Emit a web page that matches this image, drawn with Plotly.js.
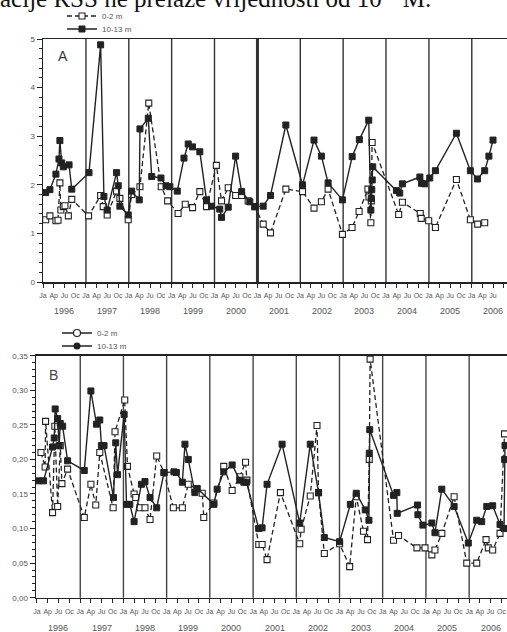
<!DOCTYPE html>
<html>
<head>
<meta charset="utf-8">
<script src="https://cdn.plot.ly/plotly-3.0.1.min.js"></script>
<style>
html,body{margin:0;padding:0;background:#fff;}
#chart{width:507px;height:632px;}
</style>
</head>
<body>
<div id="chart"></div>
<script>
// ---------- DATA ----------
const headerText = 'acije RSS ne prelaze vrijednosti od 10<sup>-4</sup> M.';
const seriesNames = ['0-2 m', '10-13 m'];
const panelLabels = ['A', 'B'];
const yearLabels = ['1996','1997','1998','1999','2000','2001','2002','2003','2004','2005','2006'];
const monthLabels = ['Ja','Ap','Ju','Oc'];
const monthStarts = ['01','04','07','10'];

// Panel A (scale 0-5)
const a02Dates = ['1996-01-24','1996-02-29','1996-04-20','1996-05-08','1996-05-24','1996-06-01','1996-06-22','1996-07-06','1996-08-04','1996-09-02',
  '1997-01-23','1997-05-06','1997-05-28','1997-07-01','1997-09-19','1997-10-17','1997-12-27',
  '1998-01-25','1998-04-06','1998-06-20','1998-10-04','1998-11-28',
  '1999-02-25','1999-04-27','1999-06-28','1999-08-29','1999-10-25',
  '2000-01-17','2000-03-01','2000-04-27','2000-06-29','2000-08-19','2000-10-14','2000-12-10',
  '2001-02-19','2001-04-22','2001-08-31',
  '2002-01-20','2002-04-28','2002-06-30','2002-08-26','2002-12-26',
  '2003-03-18','2003-05-17','2003-07-31','2003-08-09','2003-08-25','2003-08-29','2003-09-05',
  '2004-04-18','2004-05-20','2004-10-19','2004-10-27','2004-12-30',
  '2005-02-25','2005-08-23','2005-12-20',
  '2006-02-20','2006-04-21'];
const a02Vals = [1.28,1.36,1.26,1.27,2.04,1.48,1.55,1.57,1.36,1.70,
  1.36,1.78,1.55,1.38,1.87,1.72,1.28,
  1.80,1.96,3.68,1.96,1.67,
  1.41,1.60,1.53,1.86,1.55,
  2.40,1.67,1.94,1.78,1.78,1.67,1.55,
  1.19,1.01,1.91,
  1.86,1.52,1.65,1.91,0.98,
  1.12,1.45,1.91,1.75,1.22,1.67,2.87,
  1.39,1.64,1.41,1.31,1.26,
  1.12,2.11,1.28,
  1.19,1.22];

const a1013Dates = ['1996-01-24','1996-02-29','1996-04-20','1996-05-16','1996-05-24','1996-06-08','1996-06-22','1996-08-10','1996-09-02',
  '1997-01-27','1997-05-06','1997-06-03','1997-07-01','1997-09-19','1997-10-03','1997-10-17','1997-12-27',
  '1998-01-25','1998-03-31','1998-04-06','1998-06-16','1998-07-15','1998-10-02','1998-11-14','1998-12-17',
  '1999-02-18','1999-04-16','1999-05-22','1999-06-28','1999-08-29','1999-10-25','1999-12-07',
  '2000-02-15','2000-03-01','2000-04-27','2000-06-29','2000-08-19','2000-10-28','2000-12-10',
  '2001-02-19','2001-04-22','2001-08-31',
  '2002-01-20','2002-04-28','2002-06-30','2002-08-26','2002-12-26',
  '2003-03-19','2003-05-19','2003-08-07','2003-08-25','2003-08-29','2003-09-02','2003-09-06','2003-09-10',
  '2004-03-30','2004-04-27','2004-05-20','2004-10-16','2004-10-30','2004-11-27',
  '2005-01-08','2005-02-25','2005-08-23','2005-12-20',
  '2006-02-18','2006-04-21','2006-05-27','2006-07-01'];
const a1013Vals = [1.84,1.90,2.22,2.53,2.91,2.45,2.37,2.41,1.91,
  2.25,4.88,1.76,1.48,2.25,1.98,1.56,1.38,
  1.87,1.69,3.15,3.37,2.17,2.14,1.98,1.96,
  1.87,2.55,2.84,2.78,2.68,1.69,1.56,
  1.50,1.33,1.54,2.59,1.86,1.65,1.55,
  1.56,1.78,3.23,
  2.00,2.92,2.59,2.04,1.69,
  2.58,2.93,3.33,1.48,1.72,1.90,2.10,2.37,
  1.88,1.83,2.02,2.16,2.03,2.02,
  2.14,2.29,3.06,2.29,
  2.12,2.29,2.59,2.92];

// Panel B (scale 0-0.35)
const b02Dates = ['1996-02-04','1996-03-10','1996-03-14','1996-05-12','1996-05-31','1996-06-24','1996-07-16','1996-07-30','1996-09-16',
  '1997-02-04','1997-04-01','1997-05-12','1997-06-15','1997-10-06','1997-10-22',
  '1998-01-12','1998-02-04','1998-04-01','1998-04-15','1998-05-21','1998-07-02','1998-08-14','1998-10-09','1998-12-10',
  '1999-02-27','1999-05-14','1999-07-03','1999-08-28','1999-10-29','1999-11-11',
  '2000-02-04','2000-04-28','2000-07-08','2000-09-11','2000-10-29','2000-11-10',
  '2001-02-18','2001-03-18','2001-04-29','2001-08-20',
  '2002-01-30','2002-02-11','2002-04-29','2002-06-25','2002-07-08','2002-08-26',
  '2003-01-02','2003-03-28','2003-05-23','2003-07-23','2003-08-26','2003-09-10','2003-09-17',
  '2004-04-02','2004-05-14','2004-10-17','2004-12-24',
  '2005-02-20','2005-03-18','2005-05-15','2005-08-27','2005-12-12',
  '2006-03-06','2006-05-24','2006-06-12','2006-07-19','2006-09-19','2006-10-27'];
const b02Vals = [0.210,0.189,0.255,0.123,0.248,0.132,0.220,0.165,0.186,
  0.116,0.164,0.134,0.210,0.130,0.240,
  0.286,0.190,0.150,0.145,0.130,0.130,0.113,0.205,0.181,
  0.130,0.130,0.164,0.157,0.151,0.116,
  0.137,0.190,0.155,0.175,0.196,0.170,
  0.077,0.077,0.055,0.152,
  0.078,0.099,0.147,0.249,0.152,0.064,
  0.078,0.045,0.146,0.096,0.084,0.200,0.345,
  0.083,0.090,0.072,0.072,
  0.062,0.069,0.093,0.146,0.050,
  0.050,0.084,0.072,0.069,0.093,0.237];

const b1013Dates = ['1996-01-15','1996-02-26','1996-05-12','1996-05-26','1996-06-03','1996-06-24','1996-07-07','1996-07-16','1996-08-05','1996-09-16',
  '1997-02-04','1997-04-01','1997-05-18','1997-06-15','1997-06-29','1997-07-21','1997-10-09','1997-10-28','1997-11-12',
  '1998-01-07','1998-01-27','1998-02-24','1998-04-01','1998-06-02','1998-07-02','1998-08-14','1998-10-09','1998-12-10',
  '1999-03-04','1999-03-24','1999-05-14','1999-06-05','1999-07-03','1999-08-28','1999-09-17',
  '2000-02-04','2000-03-03','2000-04-28','2000-07-08','2000-09-11','2000-10-15','2000-11-06',
  '2001-02-18','2001-03-18','2001-04-29','2001-09-03',
  '2002-01-30','2002-04-29','2002-07-08','2002-08-26',
  '2003-01-02','2003-04-03','2003-05-23','2003-08-07','2003-09-07','2003-09-10','2003-09-14',
  '2004-04-02','2004-04-30','2004-05-03','2004-10-22','2004-10-25','2004-12-06',
  '2005-02-20','2005-03-18','2005-05-15','2005-08-27','2005-12-25',
  '2006-03-06','2006-04-17','2006-05-30','2006-07-19','2006-09-19','2006-10-23','2006-10-28','2006-10-31'];
const b1013Vals = [0.169,0.169,0.218,0.231,0.273,0.259,0.220,0.252,0.248,0.198,
  0.184,0.299,0.251,0.257,0.220,0.220,0.145,0.224,0.178,
  0.265,0.135,0.135,0.110,0.164,0.168,0.145,0.130,0.181,
  0.182,0.181,0.167,0.222,0.200,0.152,0.158,
  0.135,0.157,0.182,0.192,0.170,0.167,0.167,
  0.100,0.101,0.164,0.222,
  0.108,0.222,0.152,0.087,
  0.081,0.135,0.151,0.127,0.112,0.209,0.243,
  0.148,0.152,0.122,0.134,0.120,0.105,
  0.108,0.094,0.157,0.132,0.079,
  0.112,0.110,0.132,0.133,0.106,0.100,0.200,0.220];

// ---------- BUILD ----------
const W = 507, H = 632;
const px = p => p / W;
const py = p => 1 - p / H;
const INK = '#222';
const GREY = '#555';
const FONT = 'Liberation Sans, Arial, sans-serif';

const quarterVals = [], quarterText = [];
yearLabels.forEach(y => monthStarts.forEach((m, i) => { quarterVals.push(`${y}-${m}-01`); quarterText.push(monthLabels[i]); }));

const lineSolid = {color: INK, width: 1.4};
const lineDash = {color: INK, width: 1.3, dash: '5px,3px'};
const mkFilled = {symbol: 'square', size: 6, color: INK, line: {color: INK, width: 1}};
const mkOpen = {symbol: 'square', size: 6, color: '#fff', line: {color: INK, width: 1.1}};

const traces = [
  {x: a02Dates, y: a02Vals, name: seriesNames[0], mode: 'lines+markers', line: lineDash, marker: mkOpen, xaxis: 'x', yaxis: 'y', legend: 'legend'},
  {x: a1013Dates, y: a1013Vals, name: seriesNames[1], mode: 'lines+markers', line: lineSolid, marker: mkFilled, xaxis: 'x', yaxis: 'y', legend: 'legend2'},
  {x: b02Dates, y: b02Vals, name: seriesNames[0], mode: 'lines+markers', line: lineDash, marker: mkOpen, xaxis: 'x2', yaxis: 'y2', showlegend: false},
  {x: b1013Dates, y: b1013Vals, name: seriesNames[1], mode: 'lines+markers', line: lineSolid, marker: mkFilled, xaxis: 'x2', yaxis: 'y2', showlegend: false},
  // legend entries for panel B (circle symbols)
  {x: [null], y: [null], name: seriesNames[0], mode: 'lines+markers', line: {color: INK, width: 1.4}, marker: {symbol: 'circle', size: 7, color: '#fff', line: {color: INK, width: 1.2}}, xaxis: 'x2', yaxis: 'y2', legend: 'legend3'},
  {x: [null], y: [null], name: seriesNames[1], mode: 'lines+markers', line: {color: INK, width: 1.4}, marker: {symbol: 'circle', size: 7, color: INK}, xaxis: 'x2', yaxis: 'y2', legend: 'legend4'}
];

const xCommon = {
  type: 'date', tickmode: 'array', tickvals: quarterVals, ticktext: quarterText,
  ticks: 'outside', ticklen: 4, tickwidth: 1, tickcolor: INK,
  showline: true, linecolor: INK, linewidth: 1.5, mirror: true,
  showgrid: false, zeroline: false, tickangle: 0,
  tickfont: {family: FONT, size: 7, color: GREY}, ticklabelstandoff: 2
};
const yCommon = {
  ticks: 'outside', ticklen: 5, tickwidth: 1, tickcolor: INK,
  showline: true, linecolor: INK, linewidth: 1.5,
  showgrid: false, zeroline: false,
  tickfont: {family: FONT, size: 8, color: GREY}
};
const legendStyle = {xanchor: 'left', yanchor: 'middle', bgcolor: 'rgba(0,0,0,0)', font: {family: FONT, size: 8, color: GREY}, itemwidth: 30};

const layout = {
  width: W, height: H,
  margin: {l: 0, r: 0, t: 0, b: 0},
  paper_bgcolor: '#fff', plot_bgcolor: '#fff',
  separators: ',.',
  showlegend: true,
  xaxis: Object.assign({}, xCommon, {domain: [px(43), 1], range: ['1996-01-01', '2006-10-28'], anchor: 'y'}),
  yaxis: Object.assign({}, yCommon, {domain: [py(282), py(39)], range: [0, 5], tickvals: [0,1,2,3,4,5],
    minor: {dtick: 0.2, ticklen: 3, ticks: 'outside', tickcolor: INK}, anchor: 'x'}),
  xaxis2: Object.assign({}, xCommon, {domain: [px(36), 1], range: ['1995-12-24', '2006-11-17'], anchor: 'y2'}),
  yaxis2: Object.assign({}, yCommon, {domain: [py(597.7), py(355.7)], range: [0, 0.35], tickvals: [0,0.05,0.1,0.15,0.2,0.25,0.3,0.35],
    tickformat: '.2f', minor: {dtick: 0.01, ticklen: 3, ticks: 'outside', tickcolor: INK}, anchor: 'x2'}),
  legend: Object.assign({}, legendStyle, {x: px(62), y: py(16)}),
  legend2: Object.assign({}, legendStyle, {x: px(62), y: py(29)}),
  legend3: Object.assign({}, legendStyle, {x: px(57), y: py(333)}),
  legend4: Object.assign({}, legendStyle, {x: px(57), y: py(346)}),
  shapes: [],
  annotations: []
};

// year separator lines
yearLabels.slice(1).forEach(y => {
  layout.shapes.push({type: 'line', xref: 'x', yref: 'y domain', x0: `${y}-01-01`, x1: `${y}-01-01`, y0: 0, y1: 1,
    line: {color: '#333', width: y === '2001' ? 3 : 1.4}, layer: 'below'});
  layout.shapes.push({type: 'line', xref: 'x2', yref: 'y2 domain', x0: `${y}-01-01`, x1: `${y}-01-01`, y0: 0, y1: 1,
    line: {color: '#444', width: 1.4}, layer: 'below'});
});

// year labels under axes
yearLabels.forEach(y => {
  layout.annotations.push({xref: 'x', yref: 'paper', x: `${y}-07-01`, y: py(311), text: y, showarrow: false,
    xanchor: 'center', yanchor: 'middle', font: {family: FONT, size: 9, color: GREY}});
  layout.annotations.push({xref: 'x2', yref: 'paper', x: `${y}-07-01`, y: py(628), text: y, showarrow: false,
    xanchor: 'center', yanchor: 'middle', font: {family: FONT, size: 9, color: GREY}});
});

// panel letters
layout.annotations.push({xref: 'paper', yref: 'paper', x: px(63), y: py(56), text: panelLabels[0], showarrow: false,
  xanchor: 'center', yanchor: 'middle', font: {family: FONT, size: 14, color: '#333'}});
layout.annotations.push({xref: 'paper', yref: 'paper', x: px(53), y: py(375), text: panelLabels[1], showarrow: false,
  xanchor: 'center', yanchor: 'middle', font: {family: FONT, size: 14, color: '#444'}});

// running text at top (cropped)
layout.annotations.push({xref: 'paper', yref: 'paper', x: px(-2), y: py(14.5), text: headerText, showarrow: false,
  xanchor: 'left', yanchor: 'bottom', font: {family: 'Liberation Serif, Times New Roman, serif', size: 25, color: '#111'}});

Plotly.newPlot('chart', traces, layout, {displayModeBar: false, staticPlot: true});
</script>
</body>
</html>
